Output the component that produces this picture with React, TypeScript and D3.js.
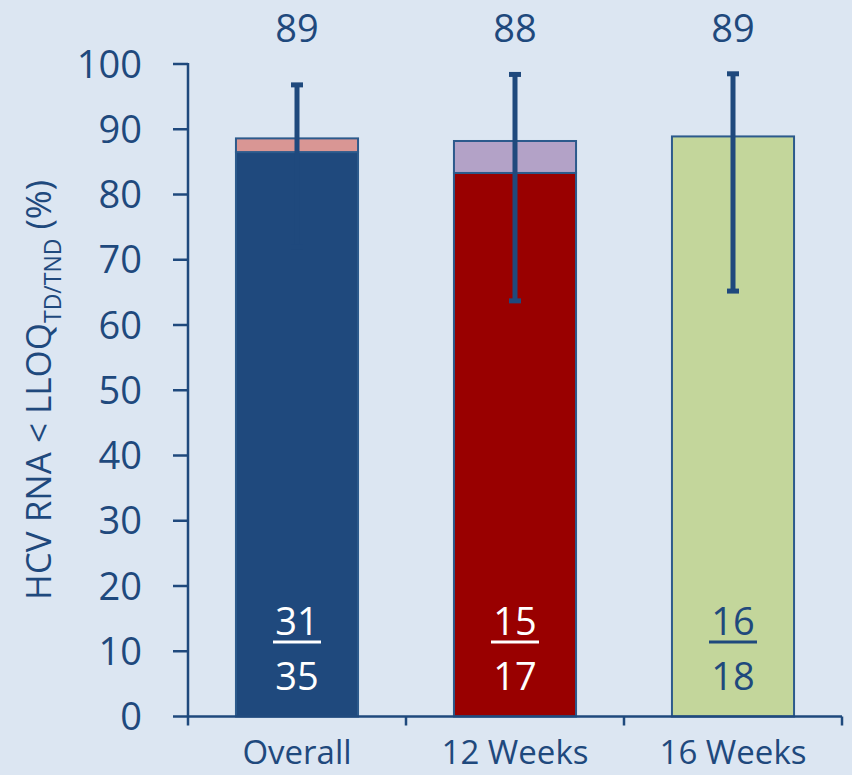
import React from "react";
import * as d3 from "d3";

const categories = ["Overall", "12 Weeks", "16 Weeks"];
const baseValues = [86.5, 83.3, 88.9];
const topValues = [2.1, 4.9, 0];
const totalLabels = ["89", "88", "89"];
const errUpper = [96.8, 98.4, 98.5];
const errLower = [72.0, 63.7, 65.2];
const numerators = ["31", "15", "16"];
const denominators = ["35", "17", "18"];
const baseColors = ["#1f497d", "#990000", "#c3d69b"];
const topColors = ["#d99694", "#b3a2c7", "#c3d69b"];
const fracColors = ["#ffffff", "#ffffff", "#1f497d"];
const yTicks = d3.range(0, 101, 10);

const W = 852;
const H = 775;
const TXT = "#1f497d";
const FONT = "'Open Sans', sans-serif";

export default function App() {
  const x = d3.scaleBand<string>().domain(categories).range([188, 842]).padding(0);
  const y = d3.scaleLinear().domain([0, 100]).range([716.5, 64]);
  const bw = x.bandwidth() * 0.56;

  return (
    <svg width={W} height={H} style={{ position: "absolute", left: 0, top: 0, background: "#dce6f2" }}>
      <rect x={0} y={0} width={W} height={H} fill="#dce6f2" />
      {/* y axis title */}
      <text
        transform={`translate(51,390) rotate(-90)`}
        textAnchor="middle"
        fill={TXT}
        fontFamily={FONT}
        fontSize={35}
      >
        HCV RNA &lt; LLOQ
        <tspan fontSize={23} dy={10}>TD/TND</tspan>
        <tspan dy={-10}> (%)</tspan>
      </text>
      {/* y ticks */}
      {yTicks.map((t) => (
        <g key={t}>
          <line x1={173} x2={188} y1={y(t)} y2={y(t)} stroke={TXT} strokeWidth={2.5} />
          <text x={142} y={y(t)} dy="0.36em" textAnchor="end" fill={TXT} fontFamily={FONT} fontSize={38}>
            {t}
          </text>
        </g>
      ))}
      <line x1={188} x2={188} y1={y(100) - 1} y2={y(0)} stroke={TXT} strokeWidth={2.5} />
      {/* bars */}
      {categories.map((c, i) => {
        const cx = (x(c) as number) + x.bandwidth() / 2;
        const x0 = cx - bw / 2;
        const total = baseValues[i] + topValues[i];
        return (
          <g key={c}>
            <rect x={x0} y={y(baseValues[i])} width={bw} height={y(0) - y(baseValues[i])} fill={baseColors[i]} stroke="#2c5a8c" strokeWidth={2} />
            {topValues[i] > 0 && (
              <rect x={x0} y={y(total)} width={bw} height={y(baseValues[i]) - y(total)} fill={topColors[i]} stroke="#2c5a8c" strokeWidth={2} />
            )}
            <line x1={cx} x2={cx} y1={y(errUpper[i])} y2={y(errLower[i])} stroke={TXT} strokeWidth={5} />
            <line x1={cx - 6} x2={cx + 6} y1={y(errUpper[i])} y2={y(errUpper[i])} stroke={TXT} strokeWidth={5} />
            <line x1={cx - 6} x2={cx + 6} y1={y(errLower[i])} y2={y(errLower[i])} stroke={TXT} strokeWidth={5} />
            <text x={cx} y={42} textAnchor="middle" fill={TXT} fontFamily={FONT} fontSize={38}>
              {totalLabels[i]}
            </text>
            <text x={cx} y={635} textAnchor="middle" fill={fracColors[i]} fontFamily={FONT} fontSize={38}>
              {numerators[i]}
            </text>
            <line x1={cx - 24} x2={cx + 24} y1={642} y2={642} stroke={fracColors[i]} strokeWidth={3} />
            <text x={cx} y={690} textAnchor="middle" fill={fracColors[i]} fontFamily={FONT} fontSize={38}>
              {denominators[i]}
            </text>
            <text x={cx} y={764} textAnchor="middle" fill={TXT} fontFamily={FONT} fontSize={33}>
              {c}
            </text>
          </g>
        );
      })}
      {/* x axis */}
      <line x1={188} x2={842} y1={y(0)} y2={y(0)} stroke={TXT} strokeWidth={2.5} />
      {[0, 1, 2, 3].map((k) => (
        <line key={k} x1={188 + k * x.step()} x2={188 + k * x.step()} y1={y(0)} y2={y(0) + 9} stroke={TXT} strokeWidth={2.5} />
      ))}
    </svg>
  );
}
